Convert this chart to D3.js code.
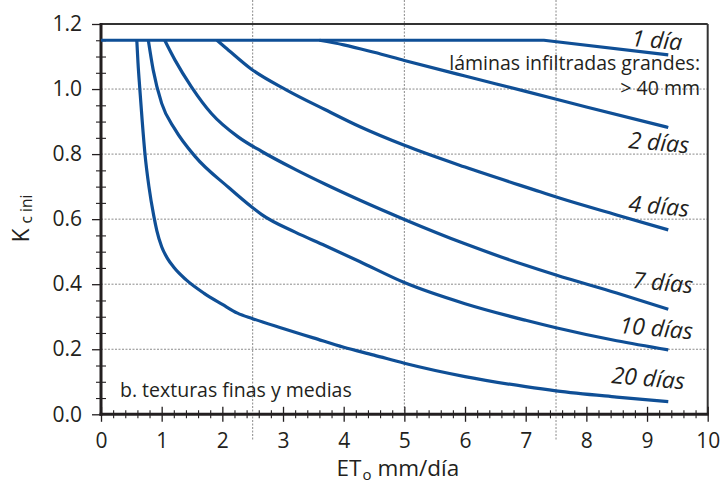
<!DOCTYPE html>
<html>
<head>
<meta charset="utf-8">
<script src="https://cdn.jsdelivr.net/npm/d3@7"></script>
<style>
  html, body { margin: 0; padding: 0; background: #ffffff; }
  svg { display: block; font-family: "Open Sans", "Noto Sans", sans-serif; }
</style>
</head>
<body>
<svg id="chart" width="720" height="483"></svg>
<script>
// ---- Data ----
const seriesNames = ["1 día", "2 días", "4 días", "7 días", "10 días", "20 días"];

// ETo (mm/día) and Kc ini values for each curve
const day1  = [[0, 1.15], [7.3, 1.15], [9.35, 1.105]];
const day2  = [[3.6, 1.15], [4.0, 1.136], [4.5, 1.113], [5.0, 1.088], [6.0, 1.040], [7.0, 0.993], [8.0, 0.945], [9.35, 0.882]];
const day4  = [[1.91, 1.15], [2.05, 1.128], [2.48, 1.061], [3.06, 0.997], [3.69, 0.937], [4.27, 0.884], [5.0, 0.827], [6.0, 0.760], [7.24, 0.684], [7.57, 0.664], [8.5, 0.613], [9.35, 0.567]];
const day7  = [[1.05, 1.15], [1.22, 1.089], [1.49, 1.007], [1.82, 0.925], [2.26, 0.853], [2.65, 0.808], [3.2, 0.753], [3.69, 0.708], [4.27, 0.658], [5.0, 0.599], [6.0, 0.524], [7.0, 0.458], [7.5, 0.428], [8.5, 0.373], [9.35, 0.323]];
const day10 = [[0.78, 1.15], [0.86, 1.059], [1.0, 0.956], [1.22, 0.876], [1.55, 0.793], [2.1, 0.698], [2.48, 0.638], [2.65, 0.614], [3.2, 0.560], [3.69, 0.519], [4.27, 0.469], [5.0, 0.405], [6.0, 0.340], [7.0, 0.289], [7.5, 0.266], [8.5, 0.226], [9.35, 0.198]];
const day20 = [[0.59, 1.15], [0.61, 1.08], [0.64, 1.0], [0.68, 0.9], [0.725, 0.80], [0.79, 0.70], [0.87, 0.61], [0.92, 0.565], [1.0, 0.515], [1.1, 0.478], [1.2, 0.452], [1.4, 0.414], [1.7, 0.372], [2.0, 0.338], [2.25, 0.311], [2.5, 0.294], [3.0, 0.264], [3.5, 0.235], [4.0, 0.206], [4.5, 0.182], [5.0, 0.157], [6.0, 0.116], [7.0, 0.085], [7.5, 0.072], [8.5, 0.053], [9.35, 0.039]];
const seriesValues = [day1, day2, day4, day7, day10, day20];

const xTicks = [0, 1, 2, 3, 4, 5, 6, 7, 8, 9, 10];
const yTicks = [0.0, 0.2, 0.4, 0.6, 0.8, 1.0, 1.2];
const yGrid = [0.2, 0.4, 0.6, 0.8, 1.0];
const xGrid = [2.5, 5, 7.5];

const panelTitle = "b. texturas finas y medias";
const noteLine1 = "láminas infiltradas grandes:";
const noteLine2 = "> 40 mm";

// ---- Layout / styles ----
const blue = "#0f4f96";
const ink = "#231f20";
const L = 101, R = 707.7, T = 24, B = 414.3;

const svg = d3.select("#chart");
const x = d3.scaleLinear().domain([0, 10]).range([L, R]);
const y = d3.scaleLinear().domain([0, 1.2]).range([B, T]);

// grid
const grid = svg.append("g").attr("stroke", "#8a8a8a").attr("stroke-width", 1).attr("stroke-dasharray", "2,1.5");
grid.selectAll("line.h").data(yGrid).join("line")
  .attr("x1", L).attr("x2", R).attr("y1", d => y(d)).attr("y2", d => y(d));
grid.selectAll("line.v").data(xGrid).join("line")
  .attr("x1", d => x(d)).attr("x2", d => x(d))
  .attr("y1", 0).attr("y2", d => d === 5 ? B : 440);

// frame top/right
svg.append("line").attr("x1", L).attr("x2", R).attr("y1", T).attr("y2", T).attr("stroke", "#333").attr("stroke-width", 2);
svg.append("line").attr("x1", R).attr("x2", R).attr("y1", T).attr("y2", B).attr("stroke", "#333").attr("stroke-width", 2);

// minor ticks
const xMinor = d3.range(0, 10.001, 0.2).map(v => +v.toFixed(1)).filter(v => !xTicks.includes(v));
const yMinor = d3.range(0, 1.2001, 0.05).map(v => +v.toFixed(2)).filter(v => !yTicks.some(t => Math.abs(t - v) < 1e-6));

const gxm = svg.append("g").attr("transform", `translate(0,${B - 4})`)
  .call(d3.axisBottom(x).tickValues(xMinor).tickSize(8).tickFormat(""));
const gym = svg.append("g").attr("transform", `translate(${L + 5},0)`)
  .call(d3.axisLeft(y).tickValues(yMinor).tickSize(10).tickFormat(""));
[gxm, gym].forEach(g => { g.select(".domain").remove(); g.selectAll("line").attr("stroke", ink).attr("stroke-width", 1.1); });

// major x ticks with labels
const gx = svg.append("g").attr("transform", `translate(0,${B - 7.5})`)
  .call(d3.axisBottom(x).tickValues(xTicks).tickSize(15).tickPadding(11).tickFormat(d3.format("d")));
gx.select(".domain").remove();
gx.selectAll("line").attr("stroke", ink).attr("stroke-width", 1.3);
gx.selectAll("text").attr("font-size", 21).attr("fill", ink).attr("font-family", "Open Sans");

// major y ticks with labels
const gy = svg.append("g").attr("transform", `translate(${L},0)`)
  .call(d3.axisLeft(y).tickValues(yTicks).tickSize(9).tickPadding(10).tickFormat(d3.format(".1f")));
gy.select(".domain").remove();
gy.selectAll("line").attr("stroke", ink).attr("stroke-width", 1.3);
gy.selectAll("text").attr("font-size", 21).attr("fill", ink).attr("font-family", "Open Sans");

// axis lines (thick)
svg.append("line").attr("x1", L).attr("x2", L).attr("y1", T - 1).attr("y2", B + 1.5).attr("stroke", ink).attr("stroke-width", 3);
svg.append("line").attr("x1", L - 1.5).attr("x2", R + 1).attr("y1", B).attr("y2", B).attr("stroke", ink).attr("stroke-width", 3);

// curves (the 1-día line is a straight break, the others smooth)
const smooth = d3.line().x(d => x(d[0])).y(d => y(d[1])).curve(d3.curveMonotoneX);
const straight = d3.line().x(d => x(d[0])).y(d => y(d[1])).curve(d3.curveLinear);
svg.append("g").selectAll("path").data(seriesValues).join("path")
  .attr("d", (d, i) => i === 0 ? straight(d) : smooth(d))
  .attr("fill", "none").attr("stroke", blue).attr("stroke-width", 3.2)
  .attr("stroke-linecap", "butt").attr("stroke-linejoin", "round");

// curve labels
const labelPos = [[631, 46], [628, 148], [628, 211.5], [632, 288], [619, 333], [611, 383]];
svg.append("g").selectAll("text").data(seriesNames).join("text")
  .attr("transform", (d, i) => `translate(${labelPos[i][0]},${labelPos[i][1]}) rotate(5)`)
  .attr("font-size", 23).attr("font-style", "italic").attr("fill", ink)
  .text(d => d);

// notes
svg.append("text").attr("x", 700).attr("y", 70).attr("text-anchor", "end")
  .attr("font-size", 19.5).attr("fill", ink).text(noteLine1);
svg.append("text").attr("x", 700).attr("y", 95).attr("text-anchor", "end")
  .attr("font-size", 19.5).attr("fill", ink).text(noteLine2);
svg.append("text").attr("x", 120).attr("y", 397).attr("font-size", 19.5).attr("fill", ink).text(panelTitle);

// axis titles
const yt = svg.append("text").attr("transform", "translate(28.5,242.5) rotate(-90)")
  .attr("fill", ink).attr("font-size", 23);
yt.append("tspan").text("K");
yt.append("tspan").attr("dx", 5).attr("dy", 3.5).attr("font-size", 15.5).text("c ini");

const xt = svg.append("text").attr("x", 336.5).attr("y", 475.5).attr("fill", ink).attr("font-size", 22.5);
xt.append("tspan").text("ET");
xt.append("tspan").attr("dx", 1).attr("dy", 4).attr("font-size", 15).text("o");
xt.append("tspan").attr("dx", 6).attr("dy", -4).text("mm/día");
</script>
</body>
</html>
